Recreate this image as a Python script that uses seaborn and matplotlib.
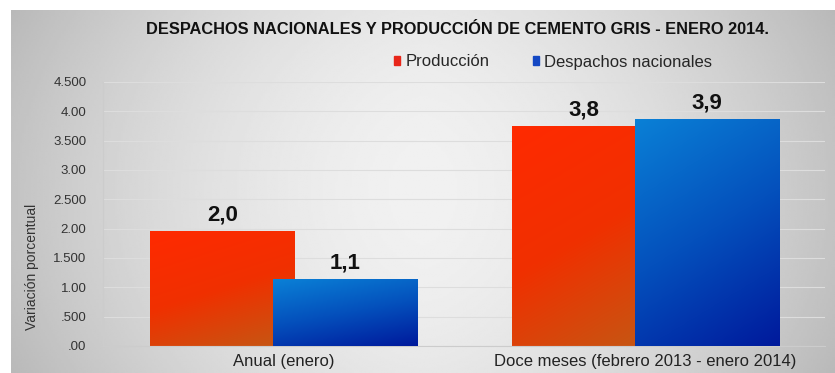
import numpy as np
import pandas as pd
import matplotlib
matplotlib.use("Agg")
import matplotlib.pyplot as plt
import matplotlib.patches as mpatches
from matplotlib.colors import LinearSegmentedColormap
import seaborn as sns

# ---------------- data ----------------
categories = ["Anual (enero)", "Doce meses (febrero 2013 - enero 2014)"]
series = ["Producción", "Despachos nacionales"]
produccion = [1.96, 3.75]
despachos = [1.14, 3.87]
labels_produccion = ["2,0", "3,8"]
labels_despachos = ["1,1", "3,9"]
yticks = [0.0, 0.5, 1.0, 1.5, 2.0, 2.5, 3.0, 3.5, 4.0, 4.5]
ytick_labels = [".00", ".500", "1.00", "1.500", "2.00", "2.500", "3.00", "3.500", "4.00", "4.500"]
title = "DESPACHOS NACIONALES Y PRODUCCIÓN DE CEMENTO GRIS - ENERO 2014."
ylabel = "Variación porcentual"

df = pd.DataFrame({
    "categoria": categories * 2,
    "serie": [series[0]] * len(categories) + [series[1]] * len(categories),
    "valor": produccion + despachos,
})

# ---------------- style ----------------
sns.set_theme(style="white")
plt.rcParams["font.family"] = ["Liberation Sans", "DejaVu Sans"]

W, H = 835, 373
fig = plt.figure(figsize=(W / 100, H / 100), dpi=100)
fig.patch.set_facecolor("white")

# background gray panel with soft gradient
bg = fig.add_axes([11 / W, 0, 1 - 11 / W, 1 - 10 / H])
gx = np.linspace(-1, 1, 400)
gy = np.linspace(-1, 1, 200)
GX, GY = np.meshgrid(gx, gy)
shade = 0.945 - 0.18 * np.abs(GX) ** 1.6 - 0.04 * np.abs(GY) ** 2
bg.imshow(shade, cmap="gray", vmin=0, vmax=1, aspect="auto",
          extent=[0, 1, 0, 1], interpolation="bilinear")
bg.set_axis_off()

ax = fig.add_axes([103 / W, 1 - 346 / H, 722 / W, (346 - 82) / H])
ax.patch.set_alpha(0)

sns.barplot(data=df, x="categoria", y="valor", hue="serie",
            palette=["#f52a05", "#0a5ec8"], saturation=1, width=0.68,
            ax=ax, legend=False)

red_cmap = LinearSegmentedColormap.from_list("r", ["#ff2a00", "#f03000", "#c45814"])
blue_cmap = LinearSegmentedColormap.from_list("b", ["#0a80d6", "#0450bc", "#001a9c"])

n = 60
rr, cc = np.mgrid[0:n, 0:n] / (n - 1)
grad = 0.72 * rr + 0.28 * cc

new_w = 0.40
for k, (cont, cmap) in enumerate(zip(ax.containers, [red_cmap, blue_cmap])):
    for p in cont:
        cx = p.get_x() + p.get_width() / 2
        p.set_width(new_w)
        p.set_x(cx - new_w / 2)
        p.set_zorder(2 + 2 * k)
        p.set_edgecolor("none")
        x0, y0 = p.get_x(), p.get_y()
        h = p.get_height()
        im = ax.imshow(grad, cmap=cmap, vmin=0, vmax=1, aspect="auto",
                       extent=[x0, x0 + new_w, y0, y0 + h], origin="upper",
                       interpolation="bilinear", zorder=2.5 + 2 * k)
        im.set_clip_path(p)

# value labels
for cont, labs in zip(ax.containers, [labels_produccion, labels_despachos]):
    for p, lab in zip(cont, labs):
        ax.annotate(lab, (p.get_x() + p.get_width() / 2, p.get_height()),
                    xytext=(0, 4), textcoords="offset points",
                    ha="center", va="bottom", fontsize=16, fontweight="bold",
                    color="#111111", zorder=10)

ax.set_xlim(-0.501, 1.497)
ax.set_ylim(0, 4.5)
ax.set_yticks(yticks)
ax.set_yticklabels(ytick_labels)
ax.tick_params(axis="y", labelsize=9.5, labelcolor="#333333", length=3,
               color="#cfcfcf", pad=9)
ax.tick_params(axis="x", labelsize=12, labelcolor="#222222", length=0, pad=6)
ax.set_xlabel("")
ax.set_ylabel(ylabel, fontsize=10, color="#333333")
ax.yaxis.set_label_coords(-0.088, 0.30)

ax.yaxis.grid(True, color="#dddddd", lw=0.8)
ax.set_axisbelow(True)
for s in ["top", "right"]:
    ax.spines[s].set_visible(False)
ax.spines["left"].set_color("#cccccc")
ax.spines["bottom"].set_color("#cccccc")
ax.spines["left"].set_linewidth(0.8)
ax.spines["bottom"].set_linewidth(0.8)

# legend
handles = [mpatches.Patch(color="#e8261a", label=series[0]),
           mpatches.Patch(color="#1448c4", label=series[1])]
ax.legend(handles=handles, loc="center", bbox_to_anchor=(553 / W, 1 - 62 / H),
          bbox_transform=fig.transFigure, ncol=2, frameon=False, fontsize=12,
          handlelength=0.38, handleheight=0.38, handletextpad=0.3,
          columnspacing=2.6)

# title
t = fig.text(458 / W, 1 - 29 / H, title, ha="center", va="center",
             fontsize=10, fontweight="bold", color="#111111")
fig.canvas.draw()
tw = t.get_window_extent().width
t.set_fontsize(10 * 623 / tw)

fig.savefig("out.png", dpi=100)
